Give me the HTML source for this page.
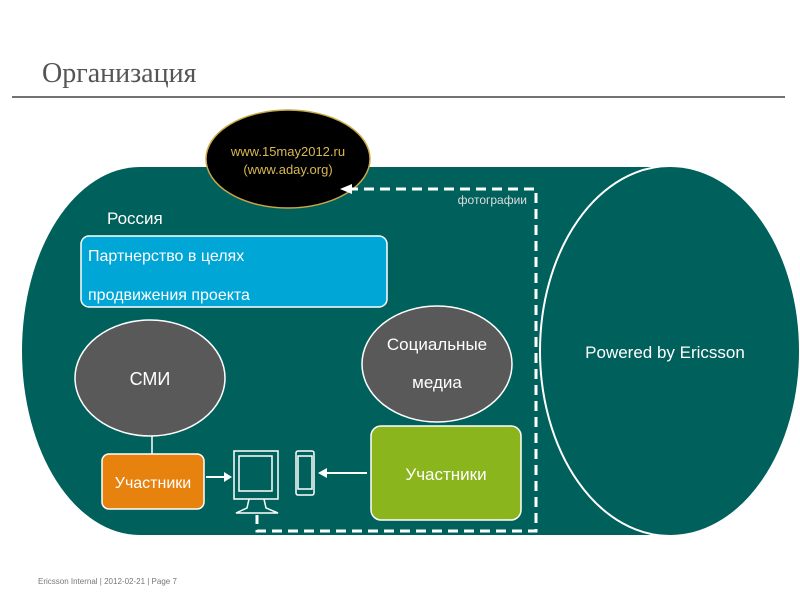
<!DOCTYPE html>
<html><head><meta charset="utf-8"><style>
body{margin:0;width:800px;height:600px;background:#fff;overflow:hidden;font-family:"Liberation Sans",sans-serif}
</style></head><body>
<svg width="800" height="600" xmlns="http://www.w3.org/2000/svg" font-family="Liberation Sans, sans-serif">
<text x="42" y="82" font-family="Liberation Serif, serif" font-size="28" fill="#555">Организация</text>
<line x1="12" y1="97" x2="785" y2="97" stroke="#444" stroke-width="1.5"/>
<path d="M670,167 L140,167 A118,184 0 0 0 140,535 L670,535 Z" fill="#00605c"/>
<ellipse cx="670" cy="351" rx="130" ry="185" fill="#00605c" stroke="#fff" stroke-width="2"/>
<text x="665" y="358" font-size="17" fill="#fff" text-anchor="middle">Powered by Ericsson</text>
<ellipse cx="288" cy="159" rx="82" ry="49" fill="#000" stroke="#c8a848" stroke-width="1.5"/>
<text x="288" y="156" font-size="13" fill="#d8b850" text-anchor="middle">www.15may2012.ru</text>
<text x="288" y="174" font-size="13" fill="#d8b850" text-anchor="middle">(www.aday.org)</text>
<path d="M348,189 L536,189 L536,531 L257,531 L257,515" fill="none" stroke="#fff" stroke-width="3" stroke-dasharray="10,6"/>
<path d="M340,189 L352,184 L352,194 Z" fill="#fff"/>
<text x="527" y="204" font-size="12" fill="#ddd" text-anchor="end">фотографии</text>
<text x="107" y="224" font-size="17" fill="#fff">Россия</text>
<rect x="81" y="236" width="306" height="71" rx="8" fill="#00a6d6" stroke="#fff" stroke-width="1.5"/>
<text x="88" y="261" font-size="16" fill="#fff">Партнерство в целях</text>
<text x="88" y="300" font-size="16" fill="#fff">продвижения проекта</text>
<ellipse cx="150" cy="378" rx="75" ry="58" fill="#595959" stroke="#fff" stroke-width="1.5"/>
<text x="150" y="385" font-size="18" fill="#fff" text-anchor="middle">СМИ</text>
<ellipse cx="437" cy="364" rx="75" ry="58" fill="#595959" stroke="#fff" stroke-width="1.5"/>
<text x="437" y="350" font-size="17" fill="#fff" text-anchor="middle">Социальные</text>
<text x="437" y="388" font-size="17" fill="#fff" text-anchor="middle">медиа</text>
<line x1="152" y1="436" x2="152" y2="454" stroke="#fff" stroke-width="1.5"/>
<rect x="102" y="454" width="102" height="55" rx="7" fill="#e8820e" stroke="#fff" stroke-width="1.5"/>
<text x="153" y="488" font-size="16" fill="#fff" text-anchor="middle">Участники</text>
<line x1="206" y1="477" x2="228" y2="477" stroke="#fff" stroke-width="2"/>
<path d="M232,477 L224,472 L224,482 Z" fill="#fff"/>
<rect x="371" y="426" width="150" height="94" rx="10" fill="#8ab51c" stroke="#fff" stroke-width="1.5"/>
<text x="446" y="480" font-size="17" fill="#fff" text-anchor="middle">Участники</text>
<line x1="367" y1="473" x2="325" y2="473" stroke="#fff" stroke-width="2"/>
<path d="M318,473 L327,468 L327,478 Z" fill="#fff"/>
<g fill="none" stroke="#fff" stroke-width="1.5">
<rect x="234" y="451" width="44" height="48"/>
<rect x="239" y="456" width="33" height="35"/>
<path d="M249,499 L247,508 L236,513 L278,513 L266,508 L264,499"/>
<rect x="296" y="451" width="18" height="44" rx="2"/>
<rect x="298" y="456" width="14" height="33"/>
</g>
<text x="38" y="584" font-size="8" fill="#777">Ericsson Internal | 2012-02-21 | Page 7</text>
</svg>
</body></html>
